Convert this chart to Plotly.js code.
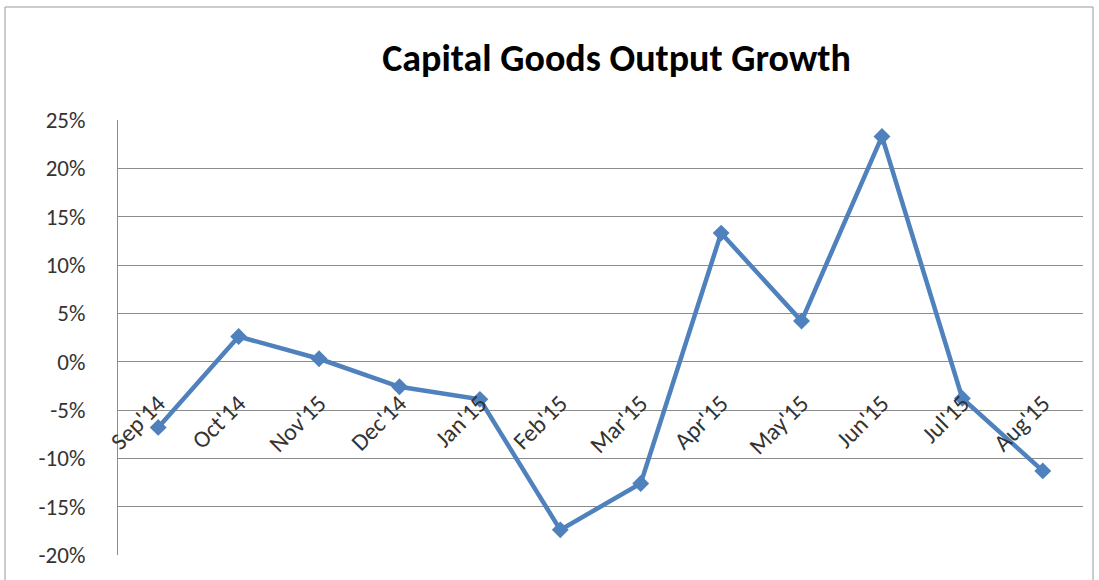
<!DOCTYPE html>
<html><head><meta charset="utf-8">
<script src="https://cdn.plot.ly/plotly-3.0.1.min.js"></script>
<style>body{margin:0;background:#fff}#c{width:1099px;height:580px}</style>
</head><body><div id="c"></div>
<script>
const months = ["Sep'14","Oct'14","Nov'15","Dec'14","Jan'15","Feb'15","Mar'15","Apr'15","May'15","Jun'15","Jul'15","Aug'15"];
const growth = [-6.8, 2.6, 0.3, -2.6, -3.9, -17.4, -12.6, 13.3, 4.2, 23.3, -3.8, -11.3];
const yTicks = [-20,-15,-10,-5,0,5,10,15,20,25];
const yTickText = yTicks.map(v => v + '%');

const font = "Carlito, Calibri, Lato, 'Open Sans', sans-serif";
const yMin = -20, yMax = 25;
Plotly.newPlot('c', [{
  x: months, y: growth, type: 'scatter', mode: 'lines+markers',
  line: {color: '#4F81BD', width: 4.5},
  marker: {symbol: 'diamond', size: 13, color: '#4F81BD'},
  hoverinfo: 'none'
}], {
  width: 1099, height: 580,
  margin: {l: 118, r: 16, t: 120, b: 25},
  paper_bgcolor: '#fff', plot_bgcolor: '#fff',
  showlegend: false,
  title: {text: 'Capital Goods Output Growth', font: {family: font, size: 38, color: '#000', weight: 'bold'}, x: 0.561, xanchor: 'center', y: 0.9, yanchor: 'middle'},
  xaxis: {
    type: 'category', range: [-0.5, 11.5], showgrid: false, zeroline: false, showline: false,
    anchor: 'free', position: (0 - yMin) / (yMax - yMin),
    tickangle: -45, ticks: '', ticklabelstandoff: 22,
    tickfont: {family: font, size: 24, color: '#333333'}
  },
  yaxis: {
    range: [yMin, yMax], tickvals: yTicks, ticktext: yTickText,
    showgrid: true, gridcolor: '#8c8c8c', gridwidth: 1, zeroline: false,
    showline: true, linecolor: '#8c8c8c', linewidth: 1, ticks: '',
    tickfont: {family: font, size: 23, color: '#333333'}, ticklabelstandoff: 27
  },
  shapes: [{type: 'rect', xref: 'paper', yref: 'paper',
    x0: (5 - 118) / 965, x1: (1093 - 118) / 965, y0: (555 - 590) / 435, y1: (555 - 7) / 435,
    line: {color: '#9a9a9a', width: 1}, fillcolor: 'rgba(0,0,0,0)', layer: 'below'}]
}, {staticPlot: true});
</script></body></html>
